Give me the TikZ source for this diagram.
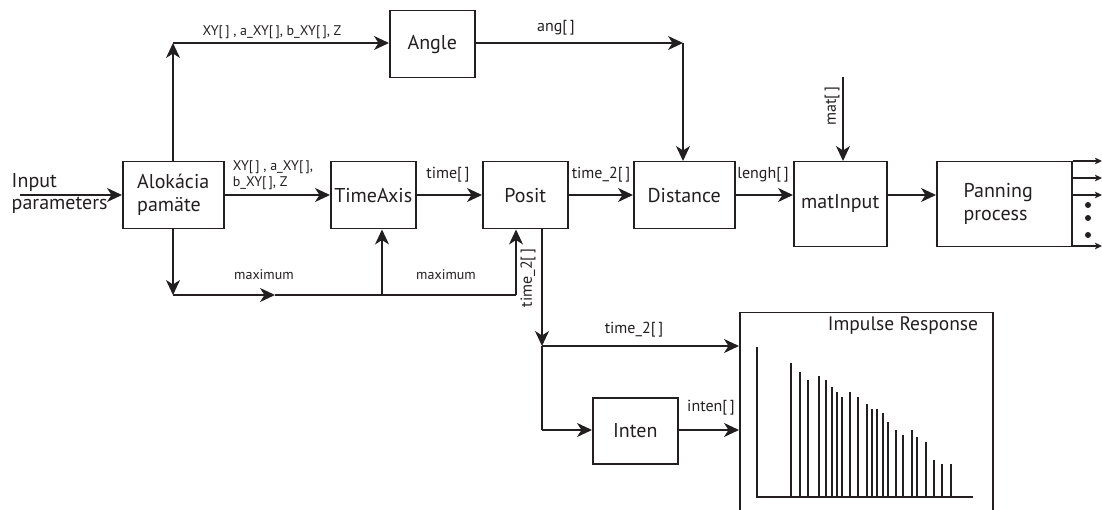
\documentclass[tikz,border=0pt]{standalone}
\usepackage{fontspec}
\setmainfont{PT Sans}
\usetikzlibrary{arrows.meta}
\definecolor{ink}{HTML}{231F20}

\begin{document}
\begin{tikzpicture}[x=1pt,y=-1pt,
  color=ink,
  line width=1.5pt,
  >={Stealth[length=15pt,width=14pt,inset=4.5pt]},
  small>/.style={-{Stealth[length=7pt,width=6.5pt,inset=1.5pt]}},
  box/.style={draw,line width=1.5pt,anchor=north west,inner sep=0pt,font=\fontsize{20}{23}\selectfont},
  lbl/.style={inner sep=0pt,font=\fontsize{16}{18}\selectfont},
  slbl/.style={inner sep=0pt,font=\fontsize{14}{16}\selectfont},
  bar/.style={line width=1.4pt}]

\useasboundingbox (0,0) rectangle (1102,510);

% processing blocks
\node[box,minimum width=101pt,minimum height=67pt,align=left] (alok) at (122,161) {Alokácia\\pamäte};
\node[box,minimum width=85pt,minimum height=67pt] (angle) at (389,10) {Angle};
\node[box,minimum width=85pt,minimum height=67pt] (time) at (330,161) {TimeAxis};
\node[box,minimum width=85pt,minimum height=67pt] (posit) at (482,161) {Posit};
\node[box,minimum width=101pt,minimum height=67pt] (dist) at (633,161) {Distance};
\node[box,minimum width=93pt,minimum height=85pt] (matin) at (793,161) {\raisebox{6pt}{matInput}};
\node[box,minimum width=135pt,minimum height=85pt,align=left] (pan) at (936,161) {\hspace*{-12pt}Panning\\\hspace*{-12pt}process};
\node[box,minimum width=85pt,minimum height=66pt] (inten) at (592,397) {Inten};
\node[box,minimum width=253pt,minimum height=215pt] (ir) at (739,312) {};
\node[inner sep=0pt,font=\fontsize{19.5}{22}\selectfont] (irl) at (903,326) {Impulse Response};

% input
\node[inner sep=0pt,anchor=west,align=left,font=\fontsize{20}{22}\selectfont] (inp) at (11,194) {Input\\parameters};
\coordinate (in0) at (20,195);
\draw[->] (in0) -- (alok.west |- in0);

% top branch to Angle
\coordinate (up) at (173,43);
\draw[->] (alok.north -| up) -- (up);
\draw[->] (up) -- (angle.west |- up);
\node[slbl] (l1) at (272,32) {XY[\,] , a\_XY[\,], b\_XY[\,], Z};

% Angle to Distance
\coordinate (ac) at (683,43);
\draw[->] (angle.east |- ac) -- (ac);
\draw[->] (ac) -- (dist.north -| ac);
\node[lbl] (l2) at (556,28) {ang[\,]};

% main chain
\coordinate (m) at (0,195);
\draw[->] (alok.east |- m) -- (time.west |- m);
\node[slbl,anchor=west,align=left] (l3) at (232,175) {XY[\,] , a\_XY[\,],\\b\_XY[\,], Z};
\draw[->] (time.east |- m) -- (posit.west |- m);
\node[lbl] (l4) at (448,175) {time[\,]};
\draw[->] (posit.east |- m) -- (dist.west |- m);
\node[lbl] (l5) at (601,175) {time\_2[\,]};
\draw[->] (dist.east |- m) -- (matin.west |- m);
\node[lbl] (l6) at (763,175) {lengh[\,]};
\draw[->] (matin.east |- m) -- (pan.west |- m);

% mat[] input
\coordinate (mt) at (843,77);
\draw[->] (mt) -- (matin.north -| mt);
\node[lbl,rotate=90] (l7) at (832,106) {mat[\,]};

% maximum feedback
\coordinate (dn) at (173,295);
\coordinate (mid) at (275,295);
\coordinate (tb) at (382,295);
\coordinate (pb) at (516,295);
\draw[->] (alok.south -| dn) -- (dn);
\draw[->] (dn) -- (mid);
\draw (mid) -- (pb);
\draw[->] (tb) -- (time.south -| tb);
\draw[->] (pb) -- (posit.south -| pb);
\node[slbl] (l8) at (264,275) {maximum};
\node[slbl] (l9) at (446,275) {maximum};

% time_2 to impulse response and Inten
\coordinate (sp) at (542,346);
\coordinate (ib) at (542,430);
\draw[->] (posit.south -| sp) -- (sp);
\draw[->] (sp) -- (ir.west |- sp);
\draw (sp) -- (ib);
\draw[->] (ib) -- (inten.west |- ib);
\draw[->] (inten.east |- ib) -- (ir.west |- ib);
\node[lbl,rotate=90] (l10) at (528,278) {time\_2[\,]};
\node[lbl] (l11) at (634,330) {time\_2[\,]};
\node[lbl] (l12) at (711,408) {inten[\,]};

% panning outputs
\foreach \yy/\nm in {161/a,178/b,195/c,246/d}{
  \coordinate (o\nm) at (1102,\yy);
  \draw[small>,line width=1.2pt] (pan.east |- o\nm) -- (o\nm);
}
\foreach \yy in {205,218,235}
  \fill (1088,\yy) circle (3pt);

% impulse response plot
\draw[line width=1.4pt] (757,347) -- (757,497) -- (973,497);
\foreach \xx/\tt in {791/363,800/372,808/380,819/376,826/380,832/387,837/392,842/397,850/392,858/397,867/404,872/409,877/409,883/413,888/422,896/430,903/435,912/430,917/437,926/442,934/460,942/464,951/464}
  \draw[bar] (\xx,497) -- (\xx,\tt);

\end{tikzpicture}
\end{document}
